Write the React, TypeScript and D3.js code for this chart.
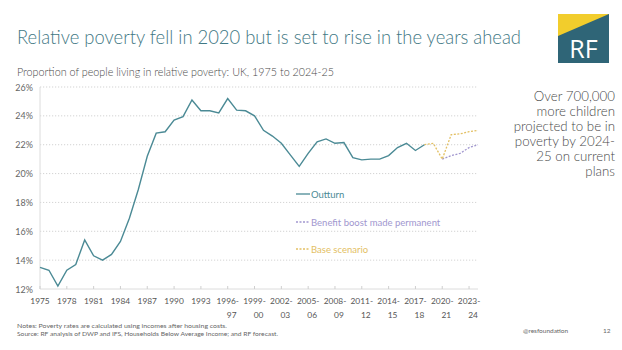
import React from 'react';
import * as d3 from 'd3';

// Proportion of people in relative poverty (AHC), UK
const outturnYears = d3.range(1975, 2019);
const outturnValues = [
  13.5, 13.3, 12.2, 13.3, 13.7, 15.4, 14.3, 14.0, 14.4, 15.3, 16.9, 18.9, 21.2, 22.8, 22.9, 23.7, 23.95,
  25.1, 24.35, 24.35, 24.2, 25.2, 24.4, 24.35, 24.0, 23.0, 22.6, 22.1, 21.3, 20.5, 21.4, 22.2, 22.4, 22.1,
  22.15, 21.1, 20.95, 21.0, 21.0, 21.25, 21.8, 22.1, 21.6, 22.0,
];
const baseYears = [2018, 2019, 2020, 2021, 2022, 2023, 2024];
const baseValues = [22.0, 22.1, 21.0, 22.7, 22.75, 22.9, 23.0];
const boostYears = [2020, 2021, 2022, 2023, 2024];
const boostValues = [21.0, 21.25, 21.4, 21.8, 22.0];

const yTicks = [12, 14, 16, 18, 20, 22, 24, 26];
const xTickYears = d3.range(1975, 2024, 3);
const xTickLabels = [
  ['1975'], ['1978'], ['1981'], ['1984'], ['1987'], ['1990'], ['1993'],
  ['1996-', '97'], ['1999-', '00'], ['2002-', '03'], ['2005-', '06'], ['2008-', '09'],
  ['2011-', '12'], ['2014-', '15'], ['2017-', '18'], ['2020-', '21'], ['2023-', '24'],
];
const annotationLines = ['Over 700,000', 'more children', 'projected to be in', 'poverty by 2024-', '25 on current', 'plans'];

const TEAL = '#4b8a95';
const PURPLE = '#a197cf';
const YELLOW = '#e3c064';
const FONT = 'Lato, "Open Sans", sans-serif';

const App: React.FC = () => {
  const x = d3.scaleLinear().domain([1975, 2024]).range([40, 478]);
  const y = d3.scaleLinear().domain([12, 26]).range([289, 87]);

  const line = d3
    .line<[number, number]>()
    .x((d) => x(d[0]))
    .y((d) => y(d[1]));

  const outturn = line(outturnYears.map((yr, i) => [yr, outturnValues[i]]));
  const base = line(baseYears.map((yr, i) => [yr, baseValues[i]]));
  const boost = line(boostYears.map((yr, i) => [yr, boostValues[i]]));

  const legend = [
    { label: 'Outturn', color: TEAL, dash: undefined, y: 194 },
    { label: 'Benefit boost made permanent', color: PURPLE, dash: '2,1.5', y: 222 },
    { label: 'Base scenario', color: YELLOW, dash: '2,1.5', y: 249 },
  ];

  return (
    <svg width={622} height={350} style={{ position: 'absolute', left: 0, top: 0, background: '#fff' }} fontFamily={FONT}>
      <rect width={622} height={350} fill="#fff" />
      <text x={17} y={44} fontSize={20} fontWeight={300} fill="#3f7884" textLength={504} lengthAdjust="spacingAndGlyphs">
        Relative poverty fell in 2020 but is set to rise in the years ahead
      </text>
      <text x={17} y={76} fontSize={11.5} fontWeight={300} fill="#4a4a4a" textLength={317} lengthAdjust="spacingAndGlyphs">
        Proportion of people living in relative poverty: UK, 1975 to 2024-25
      </text>

      {/* logo */}
      <rect x={558} y={14} width={51} height={49} fill="#2f6577" />
      <polygon points="558,14 609,14 558,36" fill="#f2cd2c" />
      <text x={583.5} y={58} fontSize={25} fill="#fff" textAnchor="middle" fontFamily="'Open Sans', sans-serif">
        RF
      </text>

      {/* grid */}
      {yTicks.slice(1).map((t) => (
        <line key={t} x1={40} x2={478} y1={y(t)} y2={y(t)} stroke="#c8c8c8" strokeWidth={0.8} strokeDasharray="1.2,1.8" />
      ))}
      <line x1={40} x2={40} y1={87} y2={289} stroke="#dcdcdc" strokeWidth={1} />
      <line x1={40} x2={478} y1={289} y2={289} stroke="#dcdcdc" strokeWidth={1} />
      {yTicks.map((t) => (
        <text key={t} x={33} y={y(t) + 3.5} fontSize={9} fill="#666" textAnchor="end">
          {t}%
        </text>
      ))}
      {xTickYears.map((yr, i) => (
        <g key={yr}>
          <line x1={x(yr)} x2={x(yr)} y1={289} y2={286} stroke="#cfcfcf" />
          {xTickLabels[i].map((s, j) => (
            <text key={j} x={x(yr) + (j === 1 ? 4 : 0)} y={304 + j * 14} fontSize={8.4} fill="#555" textAnchor="middle">
              {s}
            </text>
          ))}
        </g>
      ))}

      {/* series */}
      <path d={boost || ''} fill="none" stroke={PURPLE} strokeWidth={1.3} strokeDasharray="2,1.5" />
      <path d={base || ''} fill="none" stroke={YELLOW} strokeWidth={1.3} strokeDasharray="2,1.5" />
      <path d={outturn || ''} fill="none" stroke={TEAL} strokeWidth={1.4} />

      {/* legend */}
      {legend.map((l) => (
        <g key={l.label}>
          <line x1={296} x2={310} y1={l.y} y2={l.y} stroke={l.color} strokeWidth={1.3} strokeDasharray={l.dash} />
          <text x={311} y={l.y + 3.5} fontSize={9.5} fill={l.color}>
            {l.label}
          </text>
        </g>
      ))}

      {/* annotation */}
      {annotationLines.map((s, i) => (
        <text key={i} x={615} y={101 + i * 15} fontSize={13.3} fontWeight={300} fill="#4a4a4a" textAnchor="end">
          {s}
        </text>
      ))}

      {/* footer */}
      <text x={17} y={328} fontSize={6.5} fill="#666" textLength={210} lengthAdjust="spacingAndGlyphs">
        Notes: Poverty rates are calculated using incomes after housing costs.
      </text>
      <text x={17} y={336} fontSize={6.5} fill="#666" textLength={261} lengthAdjust="spacingAndGlyphs">
        Source: RF analysis of DWP and IFS, Households Below Average Income; and RF forecast.
      </text>
      <text x={523} y={333} fontSize={6.5} fill="#666">
        @resfoundation
      </text>
      <text x={603} y={333} fontSize={6.5} fill="#666">
        12
      </text>
    </svg>
  );
};

export default App;
